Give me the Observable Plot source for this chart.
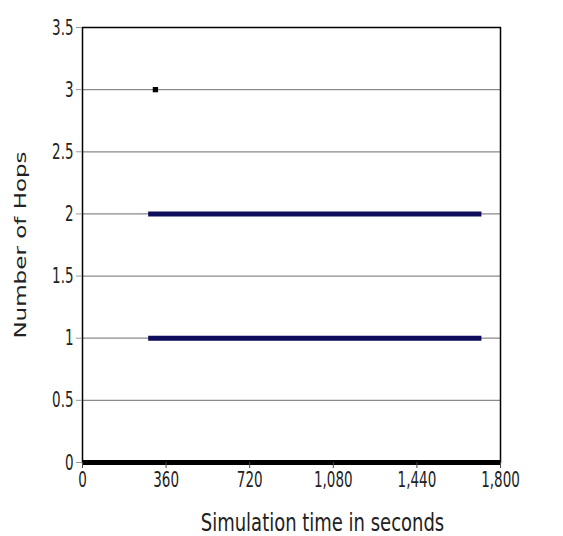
<!DOCTYPE html>
<html>
<head>
<meta charset="utf-8">
<script src="https://cdn.jsdelivr.net/npm/d3@7"></script>
<script src="https://cdn.jsdelivr.net/npm/@observablehq/plot@0.6"></script>
<style>
  html, body { margin: 0; padding: 0; background: #fff; }
  #chart svg { display: block; font-stretch: condensed; }
</style>
</head>
<body>
<div id="chart"></div>
<script>
// Data
const segStart = [285, 285, 0];        // seconds
const segEnd   = [1720, 1720, 1800];   // seconds
const segHops  = [2, 1, 0];
const segColor = ["#0d0d5c", "#0d0d5c", "#000000"];
const pointTime = [314];
const pointHops = [3];
const xTicks = [0, 360, 720, 1080, 1440, 1800];
const yTicks = [0, 0.5, 1, 1.5, 2, 2.5, 3, 3.5];
const xTitle = "Simulation time in seconds";
const yTitle = "Number of Hops";

const segments = segHops.map((h, i) => ({x1: segStart[i], x2: segEnd[i], y: h, c: segColor[i]}));
const points = pointTime.map((t, i) => ({x: t, y: pointHops[i]}));

const font = "'DejaVu Sans Condensed', 'Liberation Sans Narrow', 'Liberation Sans', Arial, sans-serif";

const chart = Plot.plot({
  width: 563,
  height: 536,
  marginLeft: 82,
  marginRight: 63,
  marginTop: 27,
  marginBottom: 74,
  style: {fontFamily: font, color: "#222", background: "#fff"},
  x: {domain: [0, 1800]},
  y: {domain: [0, 3.5]},
  marks: [
    Plot.gridY(yTicks, {stroke: "#8a8a8a", strokeOpacity: 1, strokeWidth: 1.2}),
    Plot.ruleY(segments, {x1: "x1", x2: "x2", y: "y", stroke: "c", strokeWidth: 5}),
    Plot.dot(points, {x: "x", y: "y", symbol: "square", fill: "#000", r: 3}),
    Plot.frame({stroke: "#000", strokeWidth: 1.5}),
    Plot.axisX(xTicks, {tickFormat: d3.format(","), tickSize: 6, tickPadding: 2, fontSize: 15, label: null, stroke: "#444"}),
    Plot.axisY(yTicks, {tickFormat: d => String(d), tickSize: 6, tickPadding: 3, fontSize: 15, label: null, stroke: "#999"}),
    Plot.text([xTitle], {text: d => d, frameAnchor: "bottom", dy: 60, dx: 31, fontSize: 20,
      textAnchor: "middle", lineAnchor: "middle", className: "xtitle"}),
    Plot.text([yTitle], {text: d => d, frameAnchor: "left", dx: -62, rotate: -90, fontSize: 16,
      textAnchor: "middle", lineAnchor: "middle", className: "ytitle"})
  ]
});
document.getElementById("chart").appendChild(chart);

// Stretch text to mimic the tall, narrow lettering of the reference
function stretch(nodes, sx, sy, ax, ay) {
  nodes.forEach(el => {
    const b = el.getBBox();
    const cx = b.x + b.width * ax, cy = b.y + b.height * ay;
    const t = el.getAttribute("transform") || "";
    el.setAttribute("transform", `${t} translate(${cx},${cy}) scale(${sx},${sy}) translate(${-cx},${-cy})`);
  });
}
const svg = chart;
stretch([...svg.querySelectorAll("g[aria-label='x-axis tick label'] text")], 1, 1.45, 0.5, 0);
stretch([...svg.querySelectorAll("g[aria-label='y-axis tick label'] text")], 1, 1.45, 1, 0.5);
stretch([...svg.querySelectorAll(".xtitle text")], 1, 1.25, 0.5, 0.5);
stretch([...svg.querySelectorAll(".ytitle text")], 1.6, 1, 0.5, 0.5);
</script>
</body>
</html>
